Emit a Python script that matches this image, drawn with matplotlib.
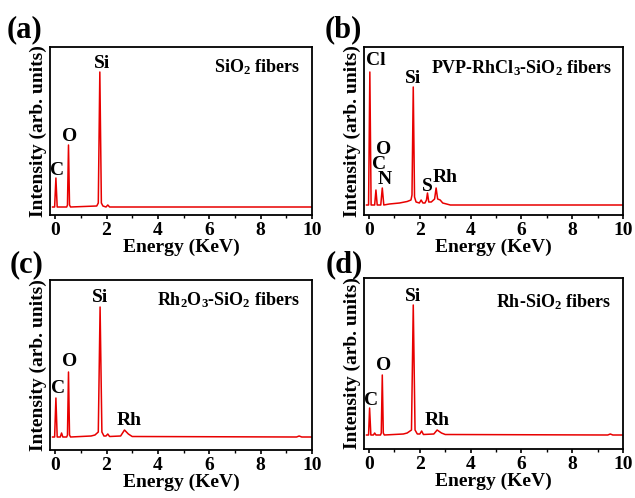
import matplotlib
matplotlib.use("Agg")
import matplotlib.pyplot as plt
from matplotlib.ticker import MultipleLocator

plt.rcParams['font.family'] = ['Liberation Serif', 'DejaVu Serif']
plt.rcParams['font.weight'] = 'bold'
plt.rcParams['mathtext.fontset'] = 'custom'
plt.rcParams['mathtext.rm'] = 'Liberation Serif:bold'
plt.rcParams['mathtext.bf'] = 'Liberation Serif:bold'
plt.rcParams['mathtext.default'] = 'bf'

# EDS spectra, knots (energy in keV, intensity arb.)
energy_a = [-0.1, -0.02, 0.03, 0.08, 0.45, 0.48, 0.52, 0.56, 0.60, 1.62, 1.68, 1.74, 1.80, 1.86,
            1.98, 2.05, 2.12, 10.0]
counts_a = [0, 0, 29, 0, 0, 2, 62, 2, 0, 1, 4, 135, 4, 1, 0, 2, 0, 0]

energy_b = [-0.1, -0.02, 0.03, 0.08, 0.22, 0.27, 0.32, 0.46, 0.52, 0.58, 0.8, 1.2, 1.5, 1.65,
            1.69, 1.74, 1.79, 1.85, 1.98, 2.05, 2.12, 2.2, 2.26, 2.3, 2.35, 2.45, 2.58, 2.64,
            2.7, 2.8, 2.9, 3.2, 10.0]
counts_b = [0, 0, 133, 0, 0, 15, 0, 0, 17, 0, 1, 2, 3.5, 5, 10, 118, 8, 3, 2, 5, 2, 2, 5, 12,
            3, 3, 6, 17, 6, 5, 2, 0, 0]

energy_c = [-0.1, -0.02, 0.03, 0.08, 0.2, 0.25, 0.3, 0.45, 0.48, 0.52, 0.56, 0.6, 1.4, 1.55,
            1.68, 1.75, 1.82, 1.9, 1.98, 2.05, 2.12, 2.55, 2.7, 2.85, 3.0, 9.4, 9.5, 9.6, 10.0]
counts_c = [0, 0, 39, 0, 0, 4, 0, 0, 2, 65, 2, 0, 1, 2, 5, 130, 5, 1, 1, 3, 0.5, 1, 7, 3, 0.5,
            0, 1, 0, 0]

energy_d = [-0.1, -0.02, 0.02, 0.07, 0.17, 0.22, 0.27, 0.45, 0.48, 0.52, 0.56, 0.6, 1.35, 1.5,
            1.67, 1.74, 1.81, 1.9, 2.0, 2.07, 2.14, 2.55, 2.68, 2.85, 3.0, 9.4, 9.5, 9.6, 10.0]
counts_d = [0, 0, 27, 0, 0, 2, 0, 0, 2, 60, 2, 0, 1, 2, 5, 130, 5, 1, 1, 4, 0.5, 1, 5, 2, 0.5,
            0, 1, 0, 0]

# peak labels: (text, energy, intensity at text centre)
labels_a = [("Si", 1.83, 144), ("O", 0.55, 71), ("C", 0.08, 37)]
labels_b = [("Cl", 0.27, 145), ("Si", 1.75, 127), ("O", 0.58, 56), ("C", 0.39, 41),
            ("N", 0.6, 26), ("S", 2.3, 19), ("Rh", 3.0, 28)]
labels_c = [("Si", 1.75, 139), ("O", 0.58, 76), ("C", 0.12, 49), ("Rh", 2.9, 17)]
labels_d = [("Si", 1.75, 139), ("O", 0.58, 70), ("C", 0.08, 35), ("Rh", 2.7, 15)]

samples = ["SiO$_2$ fibers", "PVP-RhCl$_3$-SiO$_2$ fibers",
           "Rh$_2$O$_3$-SiO$_2$ fibers", "Rh-SiO$_2$ fibers"]
sample_y = [140, 137, 137, 133]
panel_tags = ["(a)", "(b)", "(c)", "(d)"]

fig = plt.figure(figsize=(6.35, 4.98), dpi=100)
W, H = 635, 498
boxes = [(50, 47, 312, 215), (364, 47, 623, 215), (50, 280, 312, 450), (364, 278, 623, 449)]
ylims = [(-8, 160), (-10, 158), (-13, 157), (-14, 157)]
tag_pos = [(25, 30), (343, 30), (27, 265), (344, 265)]

spectra = [(energy_a, counts_a, labels_a), (energy_b, counts_b, labels_b),
           (energy_c, counts_c, labels_c), (energy_d, counts_d, labels_d)]

for i, (energy, counts, labels) in enumerate(spectra):
    x0, y0, x1, y1 = boxes[i]
    ax = fig.add_axes([x0 / W, 1 - y1 / H, (x1 - x0) / W, (y1 - y0) / H])
    ax.plot(energy, counts, color='#e80000', lw=1.1)
    ax.set_xlim(-0.2, 10)
    ax.set_ylim(*ylims[i])
    ax.xaxis.set_major_locator(MultipleLocator(2))
    ax.xaxis.set_minor_locator(MultipleLocator(1))
    ax.set_yticks([])
    ax.tick_params(axis='x', which='major', direction='out', length=3, width=1.2,
                   labelsize=14, pad=2)
    ax.tick_params(axis='x', which='minor', direction='out', length=2, width=1.0)
    for s in ax.spines.values():
        s.set_linewidth(1.3)
    ax.set_xlabel("Energy (KeV)", fontsize=14, fontweight='bold', labelpad=0)
    ax.set_ylabel("Intensity (arb. units)", fontsize=14, fontweight='bold', labelpad=2)
    for text, ex, ey in labels:
        ax.text(ex, ey, text, ha='center', va='center', fontsize=14, fontweight='bold')
    ax.text(0.955, (sample_y[i] - ylims[i][0]) / (ylims[i][1] - ylims[i][0]), samples[i],
            transform=ax.transAxes, ha='right', va='center', fontsize=13, fontweight='bold')
    tx, ty = tag_pos[i]
    fig.text(tx / W, 1 - ty / H, panel_tags[i], ha='center', va='center',
             fontsize=22, fontweight='bold')

fig.savefig("out.png", dpi=100)
